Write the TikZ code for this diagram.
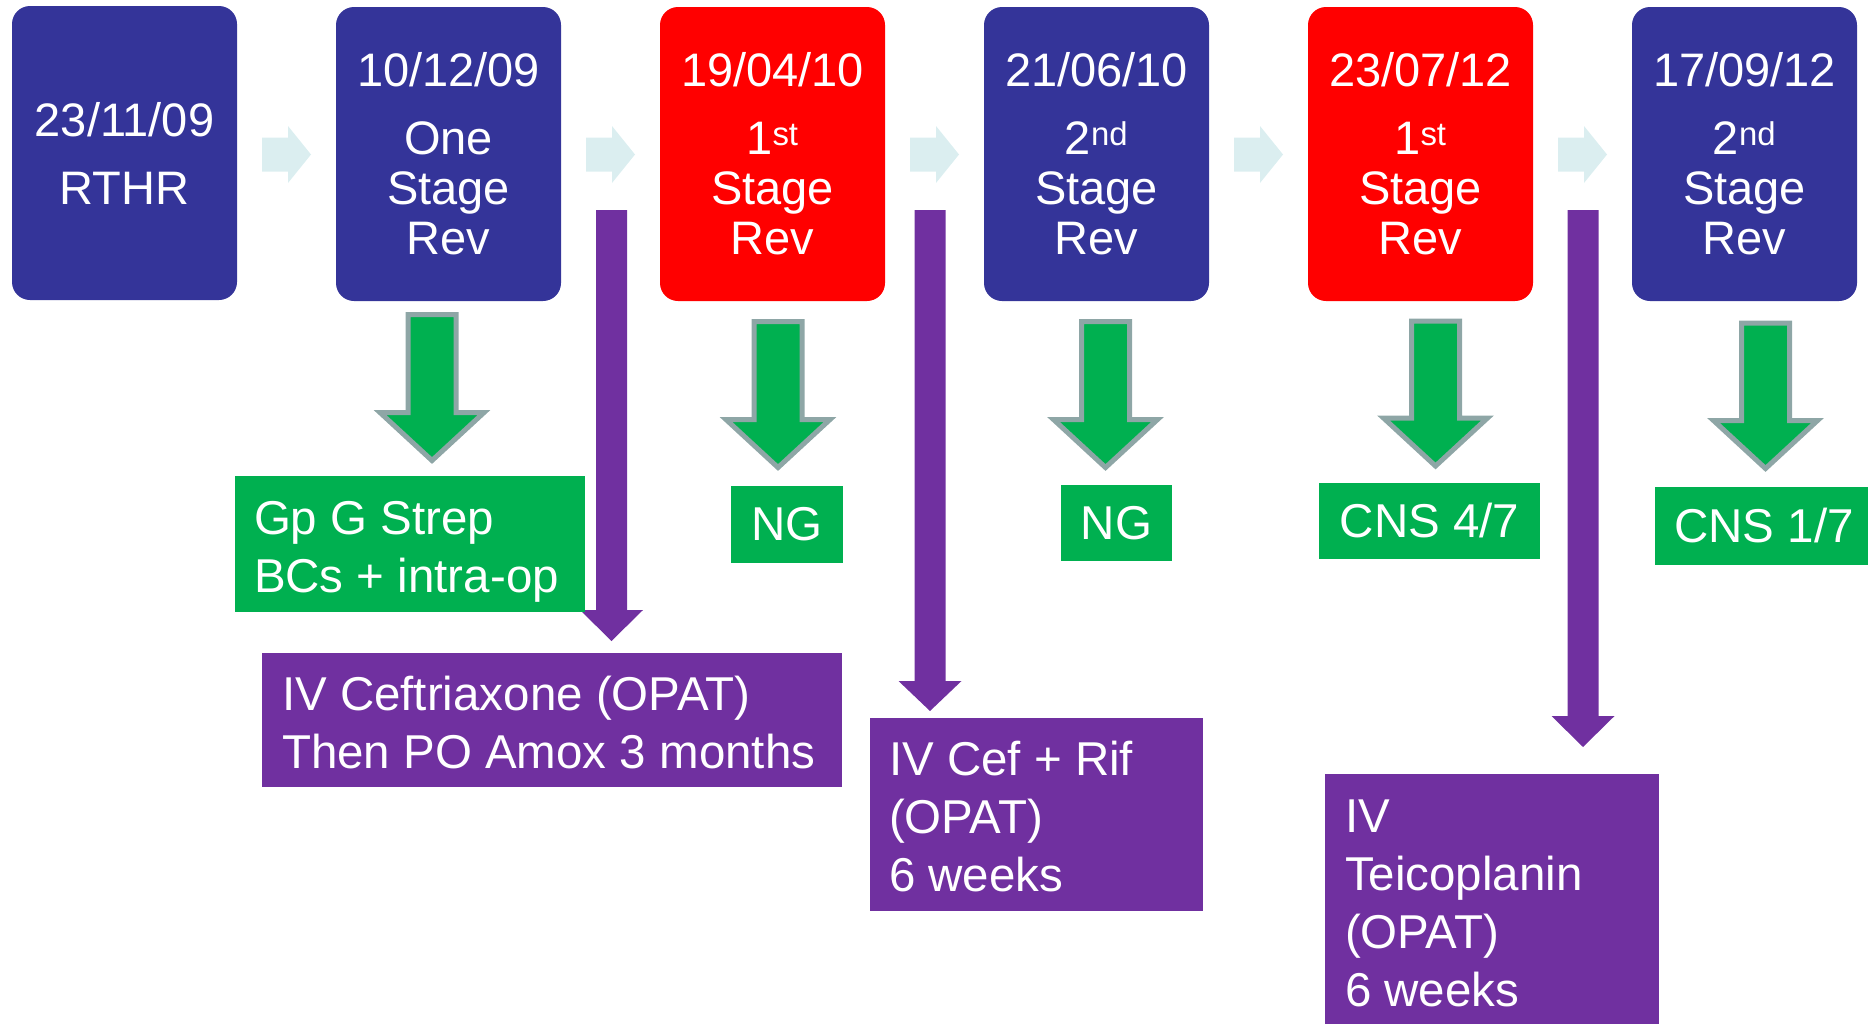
\documentclass[tikz,border=0pt]{standalone}
\usepackage{fontspec}
\setmainfont{Liberation Sans}
\definecolor{navy}{RGB}{52,52,153}
\definecolor{myred}{RGB}{255,0,0}
\definecolor{mygreen}{RGB}{0,176,80}
\definecolor{arrowgray}{RGB}{142,166,166}
\definecolor{mypurple}{RGB}{112,48,160}
\definecolor{paleblue}{RGB}{219,238,240}
% struts that fix the height of the first line and depth of the last line
% (also restore the font's own interword space)
\newcommand\topstrut{\spaceskip=0pt\xspaceskip=0pt\rule{0pt}{49pt}}
\newcommand\botstrut{\rule[-11pt]{0pt}{11pt}}
% vertical block arrow: style, x centre, top y, tip y, shaft half, head half, head length
\newcommand\vblock[7]{%
  \path[#1] (#2-#5,#3) -- (#2+#5,#3) -- (#2+#5,#4-#7) -- (#2+#6,#4-#7) -- (#2,#4)
    -- (#2-#6,#4-#7) -- (#2-#5,#4-#7) -- cycle;}
% horizontal block arrow: style, y centre, start x, tip x, shaft half, head half, head length
\newcommand\hblock[7]{%
  \path[#1] (#3,#2-#5) -- (#4-#7,#2-#5) -- (#4-#7,#2-#6) -- (#4,#2)
    -- (#4-#7,#2+#6) -- (#4-#7,#2+#5) -- (#3,#2+#5) -- cycle;}
\tikzset{
  topbox/.style={rectangle, rounded corners=18pt, minimum width=225pt, minimum height=294pt,
    inner sep=0pt, text=white, align=center, font=\fontsize{47}{50}\selectfont},
  navybox/.style={topbox, fill=navy},
  redbox/.style={topbox, fill=myred},
  labelbox/.style={rectangle, inner xsep=20pt, inner ysep=0pt, text=white, align=left,
    font=\fontsize{47.5}{58}\selectfont},
  greenbox/.style={labelbox, fill=mygreen},
  purplebox/.style={labelbox, fill=mypurple},
  greenarrow/.style={fill=mygreen, draw=arrowgray, line width=5pt, miter limit=10},
  purplearrow/.style={fill=mypurple},
  lightarrow/.style={fill=paleblue},
}
\begin{document}
\begin{tikzpicture}[x=1pt,y=-1pt]
\useasboundingbox (0,0) rectangle (1868,1023);
% timeline boxes
\node[navybox] (b1) at (124.5,153) {23/11/09\\[18pt]RTHR};
\node[navybox] (b2) at (448.5,154) {10/12/09\\[18pt]One\\Stage\\Rev};
\node[redbox]  (b3) at (772.5,154) {19/04/10\\[18pt]1\textsuperscript{st}\\Stage\\Rev};
\node[navybox] (b4) at (1096.5,154) {21/06/10\\[18pt]2\textsuperscript{nd}\\Stage\\Rev};
\node[redbox]  (b5) at (1420.5,154) {23/07/12\\[18pt]1\textsuperscript{st}\\Stage\\Rev};
\node[navybox] (b6) at (1744.5,154) {17/09/12\\[18pt]2\textsuperscript{nd}\\Stage\\Rev};
% light arrows between boxes
\foreach \c in {286.5,610.5,934.5,1258.5,1582.5}{
  \hblock{lightarrow}{154.5}{\c-24.5}{\c+24.5}{17}{28.5}{23}
}
% green arrows
\vblock{greenarrow}{432}{314.5}{460.5}{24}{52}{48}
\vblock{greenarrow}{778}{321.5}{467.5}{24}{52}{48}
\vblock{greenarrow}{1105.5}{321.5}{467.5}{24}{52}{48}
\vblock{greenarrow}{1435.5}{321}{466}{24}{52}{48}
\vblock{greenarrow}{1765.5}{323}{468.5}{24}{52}{48}
% purple arrows
\vblock{purplearrow}{611.5}{210}{641}{15.5}{31.5}{31}
\vblock{purplearrow}{930}{210}{711}{15.5}{31.5}{30}
\vblock{purplearrow}{1583}{210}{747}{15.5}{31.5}{31}
% green result boxes
\node[greenbox, inner xsep=19pt, text width=312pt, minimum height=136pt] (g1) at (410,544) {\topstrut Gp G Strep\\BCs + intra-op\botstrut};
\node[greenbox, inner xsep=0pt, align=center, minimum width=112pt, minimum height=77pt] (g2) at (787,524.5) {NG};
\node[greenbox, inner xsep=0pt, align=center, minimum width=111pt, minimum height=76pt] (g3) at (1116.5,523) {NG};
\node[greenbox, inner xsep=0pt, align=center, minimum width=221pt, minimum height=76.5pt] (g4) at (1429.5,521) {CNS 4/7};
\node[greenbox, inner xsep=0pt, align=center, minimum width=218pt, minimum height=78pt] (g5) at (1764,526) {CNS 1/7};
% purple treatment boxes
\node[purplebox, inner xsep=20pt, text width=540pt, minimum height=134pt] (p1) at (552,720) {\topstrut\mbox{IV Ceftriaxone (OPAT)}\\\mbox{Then PO Amox 3 months}\botstrut};
\node[purplebox, inner xsep=19pt, text width=295pt, minimum height=193pt] (p2) at (1036.5,814.5) {\topstrut IV Cef + Rif\\(OPAT)\\6 weeks\botstrut};
\node[purplebox, inner xsep=20pt, text width=294pt, minimum height=252pt] (p3) at (1492,900) {\topstrut IV\\Teicoplanin\\(OPAT)\\6 weeks\botstrut};
\end{tikzpicture}
\end{document}
